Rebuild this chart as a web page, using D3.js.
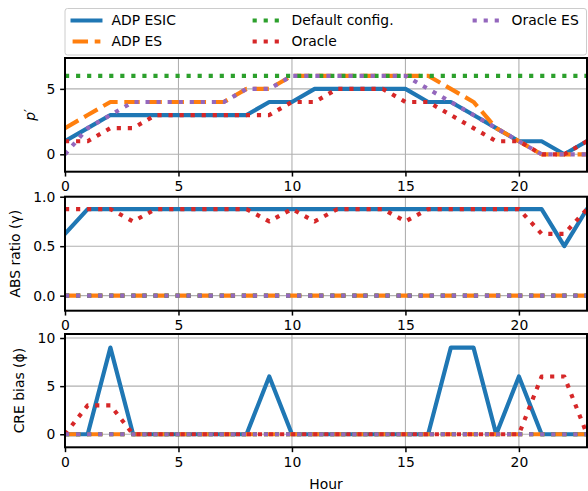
<!DOCTYPE html>
<html lang="en">
  <head>
    <meta charset="UTF-8" />
    <script src="https://d3js.org/d3.v7.min.js"></script>
    <title>ADP hourly configuration</title>
    <style>
      body { margin: 0; background: #fff; }
      text { font-family: "DejaVu Sans", sans-serif; font-size: 13.9px; fill: #000; }
    </style>
  </head>

  <body>
    <script>
      const hours = [0, 1, 2, 3, 4, 5, 6, 7, 8, 9, 10, 11, 12, 13, 14, 15, 16, 17, 18, 19, 20, 21, 22, 23];
      const xTicks = [0, 5, 10, 15, 20];

      const seriesNames = ["ADP ESIC", "ADP ES", "Default config.", "Oracle", "Oracle ES"];

      // p' (top panel)
      const pEsic     = [1, 2, 3, 3, 3, 3, 3, 3, 3, 4, 4, 5, 5, 5, 5, 5, 4, 4, 3, 2, 1, 1, 0, 1];
      const pEs       = [2, 3, 4, 4, 4, 4, 4, 4, 5, 5, 6, 6, 6, 6, 6, 6, 6, 5, 4, 2, 1, 0, 0, 0];
      const pDefault  = [6, 6, 6, 6, 6, 6, 6, 6, 6, 6, 6, 6, 6, 6, 6, 6, 6, 6, 6, 6, 6, 6, 6, 6];
      const pOracle   = [1, 1, 2, 2, 3, 3, 3, 3, 3, 3, 4, 4, 5, 5, 5, 4, 4, 3, 2, 1, 1, 0, 0, 1];
      const pOracleEs = [0, 2, 3, 4, 4, 4, 4, 4, 5, 5, 6, 6, 6, 6, 6, 6, 5, 4, 3, 2, 1, 0, 0, 0];

      // ABS ratio (gamma)
      const gEsic     = [0.625, 0.875, 0.875, 0.875, 0.875, 0.875, 0.875, 0.875, 0.875, 0.875, 0.875, 0.875,
                         0.875, 0.875, 0.875, 0.875, 0.875, 0.875, 0.875, 0.875, 0.875, 0.875, 0.5, 0.875];
      const gEs       = [0, 0, 0, 0, 0, 0, 0, 0, 0, 0, 0, 0, 0, 0, 0, 0, 0, 0, 0, 0, 0, 0, 0, 0];
      const gDefault  = [0, 0, 0, 0, 0, 0, 0, 0, 0, 0, 0, 0, 0, 0, 0, 0, 0, 0, 0, 0, 0, 0, 0, 0];
      const gOracle   = [0.875, 0.875, 0.875, 0.75, 0.875, 0.875, 0.875, 0.875, 0.875, 0.75, 0.875, 0.75,
                         0.875, 0.875, 0.875, 0.75, 0.875, 0.875, 0.875, 0.875, 0.875, 0.625, 0.625, 0.875];
      const gOracleEs = [0, 0, 0, 0, 0, 0, 0, 0, 0, 0, 0, 0, 0, 0, 0, 0, 0, 0, 0, 0, 0, 0, 0, 0];

      // CRE bias (phi)
      const cEsic     = [0, 0, 9, 0, 0, 0, 0, 0, 0, 6, 0, 0, 0, 0, 0, 0, 0, 9, 9, 0, 6, 0, 0, 0];
      const cEs       = [0, 0, 0, 0, 0, 0, 0, 0, 0, 0, 0, 0, 0, 0, 0, 0, 0, 0, 0, 0, 0, 0, 0, 0];
      const cDefault  = [0, 0, 0, 0, 0, 0, 0, 0, 0, 0, 0, 0, 0, 0, 0, 0, 0, 0, 0, 0, 0, 0, 0, 0];
      const cOracle   = [0, 3, 3, 0, 0, 0, 0, 0, 0, 0, 0, 0, 0, 0, 0, 0, 0, 0, 0, 0, 0, 6, 6, 0];
      const cOracleEs = [0, 0, 0, 0, 0, 0, 0, 0, 0, 0, 0, 0, 0, 0, 0, 0, 0, 0, 0, 0, 0, 0, 0, 0];

      const pTicks = [0, 5];
      const gTicks = [0, 0.5, 1];
      const cTicks = [0, 5, 10];

      const colors = ["#1f77b4", "#ff7f0e", "#2ca02c", "#d62728", "#9467bd"];
      const lw = 4.17;
      const dashes = [null, `${3.7 * lw},${1.6 * lw}`, `${lw},${1.65 * lw}`, `${lw},${1.65 * lw}`, `${lw},${1.65 * lw}`];

      const width = 588, height = 491;
      const left = 65, right = 587;
      const svg = d3.select("body").append("svg").attr("width", width).attr("height", height);

      const x = d3.scaleLinear().domain([0, 23]).range([left, right]);

      const panels = [
        { top: 58, bottom: 171.7, domain: [-1.33, 7.36], ticks: pTicks, fmt: d3.format("d"),
          data: [pEsic, pEs, pDefault, pOracle, pOracleEs], label: "p", labelX: 35 },
        { top: 196.7, bottom: 310.7, domain: [-0.152, 1.0], ticks: gTicks, fmt: d3.format(".1f"),
          data: [gEsic, gEs, gDefault, gOracle, gOracleEs], label: "ABS ratio (γ)", labelX: 19.5 },
        { top: 334, bottom: 447.3, domain: [-1.354, 10.417], ticks: cTicks, fmt: d3.format("d"),
          data: [cEsic, cEs, cDefault, cOracle, cOracleEs], label: "CRE bias (ϕ)", labelX: 24 }
      ];

      panels.forEach((p, k) => {
        const y = d3.scaleLinear().domain(p.domain).range([p.bottom, p.top]);
        const g = svg.append("g");

        g.append("clipPath").attr("id", "clip" + k)
          .append("rect").attr("x", left).attr("y", p.top)
          .attr("width", right - left).attr("height", p.bottom - p.top);

        // grid
        g.selectAll(".gx").data(xTicks).join("line")
          .attr("x1", d => x(d)).attr("x2", d => x(d))
          .attr("y1", p.top).attr("y2", p.bottom)
          .attr("stroke", "#b0b0b0").attr("stroke-width", 1.1);
        g.selectAll(".gy").data(p.ticks).join("line")
          .attr("x1", left).attr("x2", right)
          .attr("y1", d => y(d)).attr("y2", d => y(d))
          .attr("stroke", "#b0b0b0").attr("stroke-width", 1.1);

        // series
        const line = d3.line().x((d, i) => x(hours[i])).y(d => y(d));
        const lines = g.append("g").attr("clip-path", `url(#clip${k})`);
        p.data.forEach((s, j) => {
          lines.append("path").datum(s)
            .attr("d", line)
            .attr("fill", "none")
            .attr("stroke", colors[j])
            .attr("stroke-width", lw)
            .attr("stroke-linejoin", "round")
            .attr("stroke-linecap", j === 0 ? "square" : "butt")
            .attr("stroke-dasharray", dashes[j]);
        });

        // axes
        const ax = d3.axisBottom(x).tickValues(xTicks).tickSize(4.86).tickPadding(4.86).tickFormat(d3.format("d"));
        const xg = g.append("g").attr("transform", `translate(0,${p.bottom})`).call(ax);
        const ay = d3.axisLeft(y).tickValues(p.ticks).tickSize(4.86).tickPadding(4.86).tickFormat(p.fmt);
        const yg = g.append("g").attr("transform", `translate(${left},0)`).call(ay);
        [xg, yg].forEach(a => {
          a.select(".domain").remove();
          a.selectAll(".tick line").attr("stroke", "#000").attr("stroke-width", 1.5);
          a.selectAll("text").attr("font-size", null).attr("font-family", null).attr("fill", "#000");
        });

        g.append("rect").attr("x", left).attr("y", p.top)
          .attr("width", right - left).attr("height", p.bottom - p.top)
          .attr("fill", "none").attr("stroke", "#000").attr("stroke-width", 2);

        const cy = (p.top + p.bottom) / 2;
        const lab = g.append("text")
          .attr("transform", `translate(${p.labelX},${cy}) rotate(-90)`)
          .attr("text-anchor", "middle");
        if (k === 0) {
          lab.append("tspan").attr("font-style", "italic").text("p");
          lab.append("tspan").attr("dy", -1).text("′");
        } else {
          lab.text(p.label);
        }
      });

      svg.append("text").attr("x", (left + right) / 2).attr("y", 489)
        .attr("text-anchor", "middle").text("Hour");

      // legend
      const leg = svg.append("g");
      leg.append("rect").attr("x", 65).attr("y", 8.5).attr("width", 521.5).attr("height", 46.5)
        .attr("rx", 2.5).attr("fill", "#fff").attr("fill-opacity", 0.8)
        .attr("stroke", "#cccccc").attr("stroke-width", 1);
      const textX = [111.5, 291.5, 511.5];
      const rowY = [20.5, 41.5];
      const order = [[0, 0], [0, 1], [1, 0], [1, 1], [2, 0]];
      seriesNames.forEach((name, j) => {
        const [c, r] = order[j];
        const tx = textX[c], ty = rowY[r];
        leg.append("line")
          .attr("x1", tx - 11.1 - 27.8).attr("x2", tx - 11.1)
          .attr("y1", ty).attr("y2", ty)
          .attr("stroke", colors[j]).attr("stroke-width", lw)
          .attr("stroke-linecap", j === 0 ? "square" : "butt")
          .attr("stroke-dasharray", dashes[j]);
        leg.append("text").attr("x", tx).attr("y", ty).attr("dy", "0.35em").text(name);
      });
    </script>
  </body>
</html>
